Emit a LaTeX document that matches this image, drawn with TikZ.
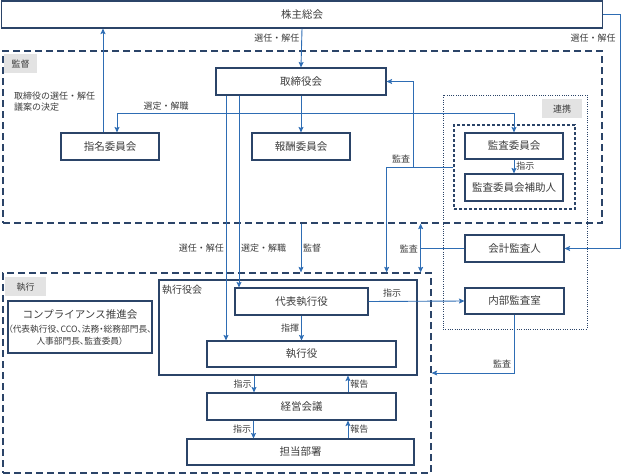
\documentclass[tikz,border=0pt]{standalone}
\usepackage{fontspec}
\setmainfont{Noto Sans CJK JP}
\newfontfamily\jpp[RawFeature=+palt]{Noto Sans CJK JP}
\usepackage{tikz}
\usetikzlibrary{arrows.meta,positioning,calc}
\definecolor{BoxNavy}{HTML}{2B4468}
\definecolor{LineBlue}{HTML}{2E6DB4}
\definecolor{TagGray}{HTML}{E3E3E3}
\definecolor{TextGray}{HTML}{3C3C3C}

\begin{document}
\begin{tikzpicture}[x=1pt,y=-1pt,>={Stealth[length=5.5pt,width=5pt,inset=1pt]},
    unit/.style={draw=BoxNavy,line width=1.1pt,text=TextGray,font=\fontsize{10.5}{12}\selectfont,inner sep=0pt},
    zone/.style={draw=BoxNavy,line width=1.3pt,dash pattern=on 7pt off 4pt,inner sep=0pt},
    tag/.style={fill=TagGray,text=TextGray,font=\fontsize{9}{10}\selectfont,inner sep=0pt,anchor=north west},
    conn/.style={draw=LineBlue,line width=0.9pt},
    note/.style={text=TextGray,font=\fontsize{9}{11}\selectfont,inner sep=2pt}]

    \useasboundingbox (0,0) rectangle (621,474);
    \newcommand{\compfont}{\jpp\fontsize{8.7}{10}\selectfont}

    % zones
    \node[zone,minimum width=599,minimum height=172] (kantoku) at (302.5,137) {};
    \node[zone,minimum width=428,minimum height=200] (shikko) at (217,373) {};
    \node[zone,line width=1pt,dash pattern=on 1pt off 1.3pt,minimum width=144,minimum height=234] (renkei) at (515,212) {};
    \node[zone,line width=1.1pt,dash pattern=on 3pt off 2pt,minimum width=121,minimum height=84] (kansagrp) at (514.5,167) {};

    \node[tag,minimum width=33,minimum height=19] at (4,54) {監督};
    \node[tag,minimum width=41,minimum height=19] at (5,277) {執行};
    \node[tag,minimum width=40,minimum height=19] at (542,99) {連携};

    % boxes
    \node[unit,minimum width=601,minimum height=27] (kabu) at (302,14.5) {株主総会};
    \node[unit,minimum width=170,minimum height=27] (torishimari) at (301,81.5) {取締役会};
    \node[unit,minimum width=98,minimum height=27] (shimei) at (110,146.5) {指名委員会};
    \node[unit,minimum width=98,minimum height=27] (hoshu) at (301,146.5) {報酬委員会};
    \node[unit,minimum width=98,minimum height=26] (kansa) at (514,146) {監査委員会};
    \node[unit,minimum width=98,minimum height=27] (hojo) at (514,187.5) {監査委員会補助人};
    \node[unit,minimum width=99,minimum height=27] (kaikei) at (514.5,248.5) {会計監査人};
    \node[unit,minimum width=99,minimum height=26] (naibu) at (514.5,301) {内部監査室};
    \node[unit,minimum width=144,minimum height=52,align=center] (comp) at (80,327)
        {コンプライアンス推進会\\[2pt]{\compfont （代表執行役、CCO、法務・総務部門長、}\\[0pt]{\compfont 人事部門長、監査委員）}};
    \node[unit,minimum width=258,minimum height=95] (yakukai) at (288,327.5) {};
    \node[note,anchor=north west,font=\fontsize{10}{12}\selectfont] at (160,283) {執行役会};
    \node[unit,minimum width=133,minimum height=27] (daihyo) at (301.5,301.5) {代表執行役};
    \node[unit,minimum width=189,minimum height=26] (shikkoyaku) at (301.5,354) {執行役};
    \node[unit,minimum width=189,minimum height=27] (keiei) at (301.5,406.5) {経営会議};
    \node[unit,minimum width=227,minimum height=26] (tanto) at (300.5,452) {担当部署};

    % shareholders
    \draw[conn,->] (kabu.south) -- node[note,left,pos=0.25] {選任・解任} (torishimari.north);
    \draw[conn,->] (kabu.east) -- ++(17,0) |- (kaikei.east);
    \node[note] at (593,38) {選任・解任};
    \coordinate (nomup) at ([xshift=-7pt]shimei.north);
    \draw[conn,->] (nomup) -- (nomup |- kabu.south);
    \node[note,anchor=north west,align=left] at (12,90) {取締役の選任・解任\\議案の決定};

    % board
    \draw[conn,->] (torishimari.south) -- (hoshu.north);
    \coordinate (sel) at (301,113);
    \draw[conn,->] (sel) -| ([xshift=7pt]shimei.north);
    \draw[conn,->] (sel) -| (kansa.north);
    \node[note] at (166,106) {選定・解職};
    \coordinate (senin) at ([xshift=-75pt]torishimari.south);
    \coordinate (sentei) at ([xshift=-62pt]torishimari.south);
    \draw[conn,->] (senin) -- (senin |- shikkoyaku.north);
    \draw[conn,->] (sentei) -- (sentei |- daihyo.north);
    \node[note,left] at (226,248) {選任・解任};
    \node[note,right] at (239,248) {選定・解職};
    \coordinate (kan) at (kantoku.south -| hoshu.south);
    \draw[conn,->] (kan) -- (kan |- shikko.north);
    \node[note,right] at (301,248) {監督};

    % audit
    \draw[conn,->] (kansa.south) -- node[note,right] {指示} (hojo.north);
    \coordinate (kdown) at ([xshift=-45pt]shikko.north east);
    \draw[conn,->] (kansagrp.west) -| (kdown);
    \coordinate (kup) at ([xshift=-40pt]kansagrp.west);
    \draw[conn,->] (kup) |- (torishimari.east);
    \node[note] at (401,159) {監査};
    \coordinate (gai) at ([xshift=-11pt]shikko.north east);
    \draw[conn,<->] (gai) -- (gai |- kantoku.south);
    \draw[conn] (kaikei.west) -- (kaikei.west -| gai);
    \node[note,left] at (420,249) {監査};

    % execution
    \draw[conn,->] (daihyo.south) -- node[note,left] {指揮} (shikkoyaku.north);
    \draw[conn,->] (daihyo.east) -- (naibu.west);
    \node[note] at (392,293) {指示};
    \draw[conn,->] (naibu.south) |- (shikko.east);
    \node[note] at (502,364) {監査};

    \coordinate (shiji) at ([xshift=-47.5pt]keiei.north);
    \coordinate (hokoku) at ([xshift=46.5pt]keiei.north);
    \draw[conn,->] (shiji |- yakukai.south) -- node[note,left] {指示} (shiji);
    \draw[conn,->] (hokoku) -- node[note,right] {報告} (hokoku |- yakukai.south);
    \coordinate (shiji2) at ([xshift=-47pt]tanto.north);
    \coordinate (hokoku2) at ([xshift=47.5pt]tanto.north);
    \draw[conn,->] (shiji2 |- keiei.south) -- node[note,left] {指示} (shiji2);
    \draw[conn,->] (hokoku2) -- node[note,right] {報告} (hokoku2 |- keiei.south);
\end{tikzpicture}
\end{document}
